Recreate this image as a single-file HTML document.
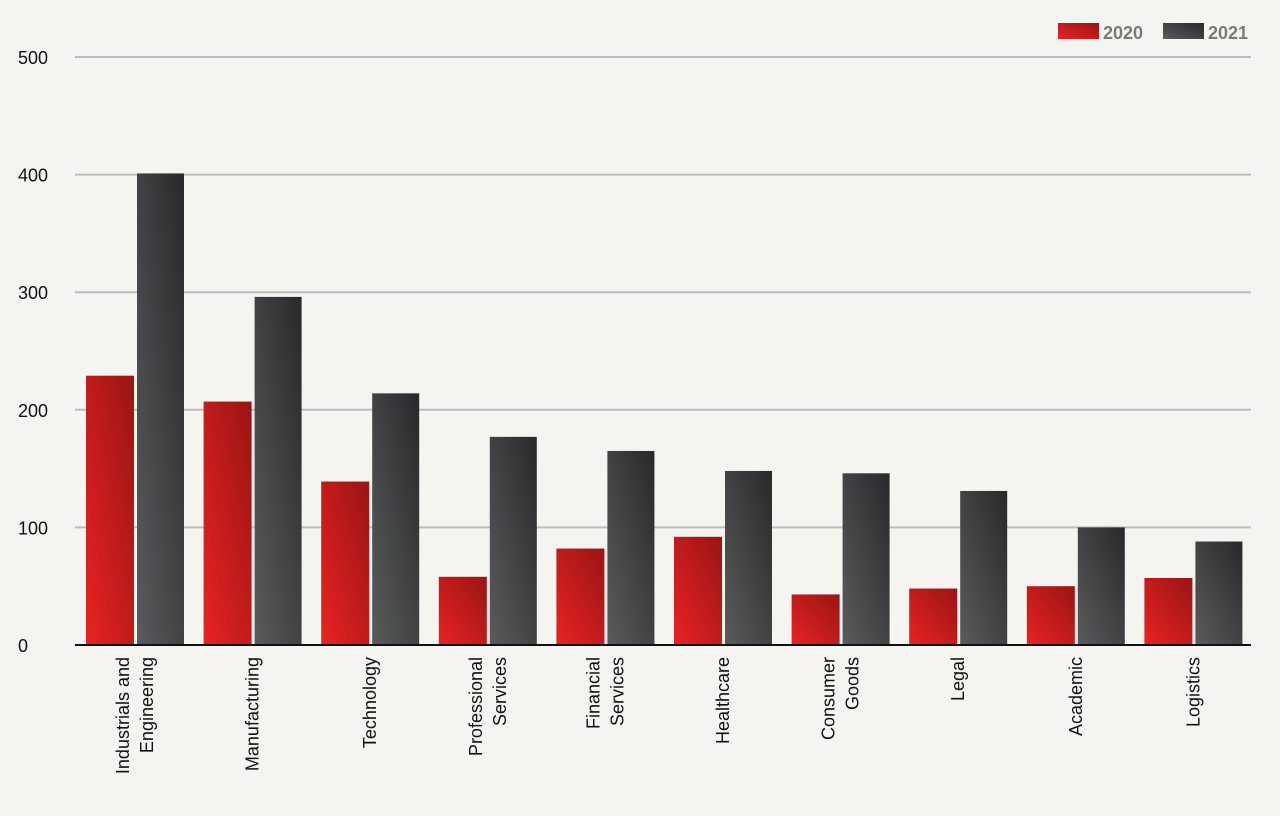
<!DOCTYPE html>
<html><head><meta charset="utf-8"><style>
body{margin:0;background:#f5f4f0;}
svg{display:block;font-family:"Liberation Sans",sans-serif;}
</style></head><body>
<svg id="chart" width="1280" height="816" viewBox="0 0 1280 816">
<defs>
<linearGradient id="gRed" x1="0" y1="1" x2="1" y2="0"><stop offset="0" stop-color="#e82323"/><stop offset="1" stop-color="#9a1414"/></linearGradient>
<linearGradient id="gDark" x1="0" y1="1" x2="1" y2="0"><stop offset="0" stop-color="#5a5b5d"/><stop offset="1" stop-color="#29292b"/></linearGradient>
</defs>
<g id="grid"></g>
<g id="bars"></g>
<g id="labels"></g>
<g>
<rect x="1058" y="23" width="41" height="16" fill="url(#gRed)"/>
<text x="1103" y="39" font-size="18" font-weight="bold" fill="#7a7a7a">2020</text>
<rect x="1163" y="23" width="41" height="16" fill="url(#gDark)"/>
<text x="1208" y="39" font-size="18" font-weight="bold" fill="#7a7a7a">2021</text>
</g>
</svg>
<script>
const categories=[["Industrials and","Engineering"],["Manufacturing"],["Technology"],["Professional","Services"],["Financial","Services"],["Healthcare"],["Consumer","Goods"],["Legal"],["Academic"],["Logistics"]];
const values2020=[229,207,139,58,82,92,43,48,50,57];
const values2021=[401,296,214,177,165,148,146,131,100,88];
const yTicks=[0,100,200,300,400,500];
const NS="http://www.w3.org/2000/svg";
const x0=75,x1=1251,y0=645,y500=57;
const y=v=>y0-(v/500)*(y0-y500);
const gw=(x1-x0)/categories.length;
function mk(t,a,p){const e=document.createElementNS(NS,t);for(const k in a)e.setAttribute(k,a[k]);p.appendChild(e);return e;}
const grid=document.getElementById('grid');
yTicks.forEach(t=>{
  if(t>0){const l=mk('line',{x1:x0,x2:x1,y1:y(t),y2:y(t),stroke:'#bdbdbd','stroke-width':2},grid);
  
  }
  const tx=mk('text',{x:18,y:y(t)+7,'font-size':18,fill:'#111'},grid);tx.textContent=t;
  
  
});
const bars=document.getElementById('bars'),labels=document.getElementById('labels');
categories.forEach((c,i)=>{
  const gx=x0+i*gw;
  const r=mk('rect',{x:gx+11,y:y(values2020[i]),width:48,height:y0-y(values2020[i]),fill:'url(#gRed)'},bars);
  
  
  const d=mk('rect',{x:gx+62,y:y(values2021[i]),width:47,height:y0-y(values2021[i]),fill:'url(#gDark)'},bars);
  
  
  const cx=gx+60;
  const n=c.length;
  c.forEach((line,j)=>{
    const lx=cx+(j-(n-1)/2)*24+6;
    const t=mk('text',{x:0,y:0,'font-size':18,fill:'#111','text-anchor':'end',transform:`translate(${lx},657) rotate(-90)`},labels);
    t.textContent=line;
    
    
  });
});
const ax=mk('line',{x1:x0,x2:x1,y1:y0,y2:y0,stroke:'#111','stroke-width':2},grid.parentNode);


</script>
</body></html>
